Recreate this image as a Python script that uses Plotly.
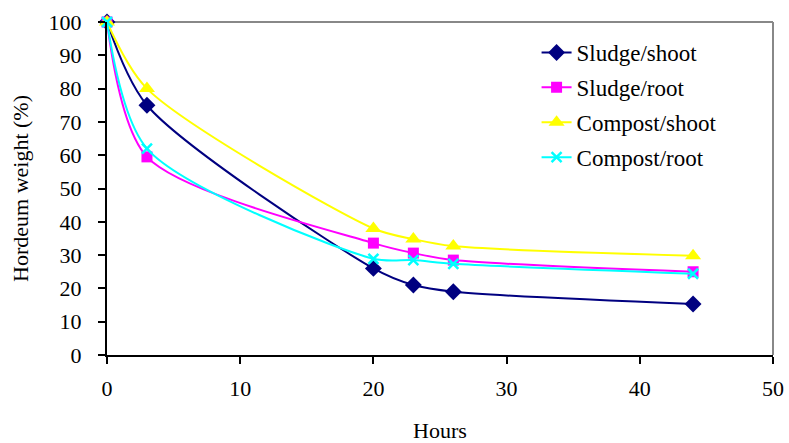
import plotly.graph_objects as go

hours = [0, 3, 20, 23, 26, 44]
sludge_shoot = [100, 75, 26, 21, 19, 15.3]
sludge_root = [100, 59.5, 33.6, 30.6, 28.5, 25]
compost_shoot = [100, 80, 38, 34.8, 32.7, 29.8]
compost_root = [100, 62, 28.9, 28.5, 27.4, 24.4]

series = [
    ("Sludge/shoot", sludge_shoot, "#000080", "diamond", 13),
    ("Sludge/root", sludge_root, "#FF00FF", "square", 11),
    ("Compost/shoot", compost_shoot, "#FFFF00", "triangle-up", 14),
    ("Compost/root", compost_root, "#00FFFF", "x-thin", 10),
]

fig = go.Figure()
for i, (name, vals, color, sym, sz) in enumerate(series):
    fig.add_trace(go.Scatter(
        x=hours, y=vals, name=name, mode="lines+markers",
        line=dict(color=color, width=2, shape="spline", smoothing=0.8),
        marker=dict(symbol=sym, size=sz, color=color,
                    line=dict(color=color, width=2.5 if sym == "x-thin" else 0)),
        legendgroup=f"g{i}", cliponaxis=False,
    ))

font = dict(family="Liberation Serif, Times New Roman, serif", size=22, color="black")
lfont = dict(family="Liberation Serif, Times New Roman, serif", size=23, color="black")

fig.update_layout(
    width=789, height=443,
    margin=dict(l=107, r=16, t=22, b=88),
    paper_bgcolor="white", plot_bgcolor="white",
    font=font,
    showlegend=True,
    legend=dict(x=0.645, y=0.973, xanchor="left", yanchor="top",
                bgcolor="rgba(0,0,0,0)", tracegroupgap=2, font=lfont),
    xaxis=dict(range=[0, 50], dtick=10, tick0=0, ticks="outside", ticklen=7,
               tickcolor="black", tickwidth=2, showgrid=False, zeroline=False,
               showline=True, linecolor="black", linewidth=2,
               automargin=False, ticklabelstandoff=6, tickfont=font,
               title=dict(text="Hours", font=font, standoff=28)),
    yaxis=dict(range=[0, 100], dtick=10, tick0=0, ticks="outside", ticklen=7,
               tickcolor="black", tickwidth=2, showgrid=False, zeroline=False,
               showline=True, linecolor="black", linewidth=2,
               automargin=False, ticklabelstandoff=12, tickfont=font,
               title=dict(text="Hordeum weight (%)", font=font, standoff=14)),
)

# gray top and right border of plot area
fig.add_shape(type="line", xref="paper", yref="paper", x0=0, x1=1, y0=1, y1=1,
              line=dict(color="#888888", width=2), layer="below")
fig.add_shape(type="line", xref="paper", yref="paper", x0=1, x1=1, y0=0, y1=1,
              line=dict(color="#888888", width=2), layer="below")

fig.write_html("out.html", config={"displayModeBar": False},
               post_script="document.body.style.margin='0';")
